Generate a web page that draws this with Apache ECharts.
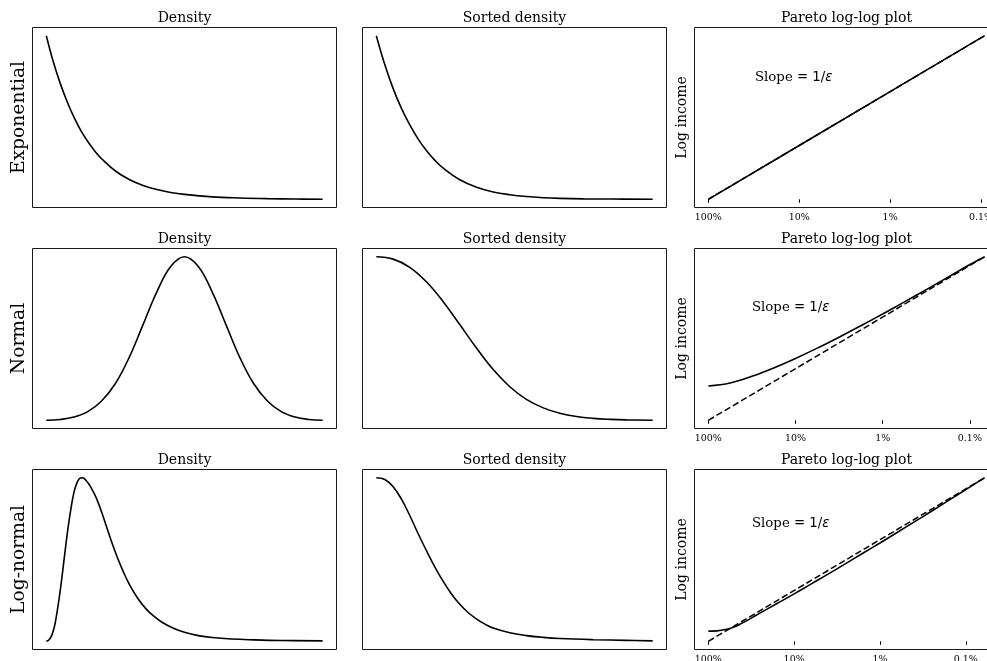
<!DOCTYPE html>
<html>
<head>
<meta charset="utf-8">
<script src="https://cdn.jsdelivr.net/npm/echarts@6/dist/echarts.min.js"></script>
<style>
html,body{margin:0;padding:0;background:#fff;}
#chart{width:987px;height:661px;}
</style>
</head>
<body>
<div id="chart"></div>
<script>
// ---------- data (normalized: x = position within data range, y = fraction of data range) ----------
const rowNames = ['Exponential', 'Normal', 'Log-normal'];
const colTitles = ['Density', 'Sorted density', 'Pareto log-log plot'];
const paretoTickValues = [0, 1, 2, 3];
const paretoTickLabels = ['100%', '10%', '1%', '0.1%'];

const expDensityT = [0, 0.025, 0.05, 0.075, 0.10, 0.125, 0.15, 0.175, 0.20, 0.25, 0.30, 0.35, 0.40, 0.45, 0.50, 0.60, 0.70, 0.80, 0.90, 1.0];
const expDensityV = [1.0, 0.842, 0.71, 0.598, 0.502, 0.42, 0.353, 0.296, 0.248, 0.173, 0.121, 0.085, 0.06, 0.042, 0.03, 0.015, 0.008, 0.004, 0.002, 0.0];

const expSortedT = [0, 0.0303, 0.0606, 0.0909, 0.1212, 0.1515, 0.1818, 0.2121, 0.2424, 0.302, 0.363, 0.423, 0.483, 0.543, 0.604, 0.664, 0.75, 0.85, 1.0];
const expSortedV = [1.0, 0.825, 0.678, 0.556, 0.455, 0.368, 0.297, 0.238, 0.19, 0.12, 0.074, 0.045, 0.028, 0.017, 0.010, 0.006, 0.003, 0.002, 0.0];

const normDensityT = [0, 0.05, 0.10, 0.15, 0.20, 0.25, 0.30, 0.35, 0.40, 0.45, 0.50, 0.55, 0.60, 0.65, 0.70, 0.75, 0.80, 0.85, 0.90, 0.95, 1.0];
const normDensityV = [0, 0.005, 0.020, 0.053, 0.118, 0.225, 0.385, 0.585, 0.785, 0.94, 1.0, 0.94, 0.785, 0.585, 0.385, 0.225, 0.118, 0.053, 0.020, 0.005, 0];

const normSortedT = [0, 0.061, 0.121, 0.182, 0.242, 0.302, 0.363, 0.423, 0.483, 0.543, 0.604, 0.664, 0.724, 0.785, 0.85, 0.905, 1.0];
const normSortedV = [1.0, 0.985, 0.935, 0.845, 0.725, 0.585, 0.44, 0.31, 0.205, 0.128, 0.076, 0.043, 0.023, 0.012, 0.006, 0.003, 0.0];

const lognDensityT = [0, 0.01, 0.02, 0.03, 0.04, 0.05, 0.06, 0.07, 0.08, 0.09, 0.10, 0.11, 0.12, 0.13, 0.14, 0.15, 0.16, 0.18, 0.20, 0.22, 0.24, 0.26, 0.28, 0.30, 0.33, 0.36, 0.39, 0.42, 0.46, 0.50, 0.55, 0.60, 0.67, 0.75, 0.85, 1.0];
const lognDensityV = [0, 0.010, 0.038, 0.095, 0.19, 0.305, 0.44, 0.58, 0.71, 0.82, 0.91, 0.965, 0.995, 1.0, 0.99, 0.97, 0.945, 0.88, 0.79, 0.69, 0.59, 0.50, 0.42, 0.35, 0.265, 0.20, 0.152, 0.115, 0.08, 0.055, 0.035, 0.023, 0.014, 0.009, 0.005, 0.003];

const lognSortedT = [0, 0.031, 0.061, 0.091, 0.121, 0.151, 0.182, 0.212, 0.242, 0.272, 0.302, 0.332, 0.363, 0.393, 0.423, 0.483, 0.543, 0.604, 0.664, 0.785, 0.905, 1.0];
const lognSortedV = [1.0, 0.989, 0.944, 0.869, 0.769, 0.659, 0.552, 0.454, 0.366, 0.289, 0.226, 0.176, 0.136, 0.105, 0.081, 0.052, 0.035, 0.024, 0.017, 0.010, 0.006, 0.003];

// Pareto: x in decades of top share (0 = 100%, 3 = 0.1%), y = normalized log income
const paretoExpX = [0, 1, 2, 3.04];
const paretoExpV = [0, 0.329, 0.658, 1.0];
const paretoExpRefX = [0, 3.04];
const paretoExpRefV = [0, 1.0];

const paretoNormX = [0, 0.25, 0.5, 0.75, 1.0, 1.25, 1.5, 1.75, 2.0, 2.25, 2.5, 2.75, 3.0, 3.17];
const paretoNormV = [0.21, 0.228, 0.269, 0.320, 0.378, 0.441, 0.508, 0.578, 0.650, 0.724, 0.799, 0.875, 0.952, 1.0];
const paretoNormRefX = [0, 3.17];
const paretoNormRefV = [0, 1.0];

const paretoLognX = [0, 0.1, 0.2, 0.3, 0.4, 0.5, 0.6, 0.8, 1.0, 1.2, 1.4, 1.6, 1.8, 2.0, 2.2, 2.4, 2.6, 2.8, 3.0, 3.22];
const paretoLognV = [0.062, 0.064, 0.072, 0.088, 0.113, 0.142, 0.172, 0.231, 0.290, 0.351, 0.412, 0.475, 0.538, 0.601, 0.665, 0.730, 0.795, 0.861, 0.927, 1.0];
const paretoLognRefX = [0, 3.22];
const paretoLognRefV = [0, 1.0];

const paretoXmax = [3.04, 3.17, 3.22];

// ---------- layout ----------
const colLeft = [32.5, 362.5, 694.5];
const rowTop = [27.5, 248.5, 469.5];
const PW = 304, PH = 180;
const SERIF = 'DejaVu Serif';
const INK = '#000';
const SPINE = '#1a1a1a';

const zip = (xs, ys) => xs.map((x, i) => [x, ys[i]]);

const panels = [
  [ {t: expDensityT, v: expDensityV}, {t: expSortedT, v: expSortedV},
    {x: paretoExpX, v: paretoExpV, rx: paretoExpRefX, rv: paretoExpRefV, smooth: false} ],
  [ {t: normDensityT, v: normDensityV}, {t: normSortedT, v: normSortedV},
    {x: paretoNormX, v: paretoNormV, rx: paretoNormRefX, rv: paretoNormRefV, smooth: 0.4} ],
  [ {t: lognDensityT, v: lognDensityV}, {t: lognSortedT, v: lognSortedV},
    {x: paretoLognX, v: paretoLognV, rx: paretoLognRefX, rv: paretoLognRefV, smooth: 0.5} ]
];

const grid = [], xAxis = [], yAxis = [], series = [], title = [], graphic = [];
const slopePos = [[755, 78], [752, 308], [752, 523.5]];

for (let r = 0; r < 3; r++) {
  for (let c = 0; c < 3; c++) {
    const gi = r * 3 + c;
    grid.push({left: colLeft[c], top: rowTop[r], width: PW, height: PH, show: true,
      borderColor: SPINE, borderWidth: 1, backgroundColor: 'transparent',
      containLabel: false, outerBoundsMode: 'none'});
    title.push({text: colTitles[c], left: colLeft[c] + PW / 2, top: rowTop[r] - 16.5, textAlign: 'center',
      padding: 0, textStyle: {fontFamily: SERIF, fontSize: 14, fontWeight: 'normal', color: INK}});
    const p = panels[r][c];
    if (c < 2) {
      xAxis.push({gridIndex: gi, type: 'value', min: -0.05, max: 1.05, show: false});
      yAxis.push({gridIndex: gi, type: 'value', min: -0.05, max: 1.05, show: c === 0,
        axisLine: {show: false}, axisTick: {show: false}, axisLabel: {show: false}, splitLine: {show: false},
        name: c === 0 ? rowNames[r] : '', nameLocation: 'middle', nameRotate: 90, nameGap: 4,
        nameTextStyle: {fontFamily: SERIF, fontSize: 18.7, color: INK}});
      series.push({type: 'line', xAxisIndex: gi, yAxisIndex: gi, data: zip(p.t, p.v),
        showSymbol: false, symbol: 'none', smooth: 0.4,
        lineStyle: {color: INK, width: 1.6}, silent: true});
    } else {
      const xm = paretoXmax[r];
      xAxis.push({gridIndex: gi, type: 'value', min: -0.05 * xm, max: 1.05 * xm,
        axisLine: {show: false}, splitLine: {show: false},
        axisTick: {show: true, customValues: paretoTickValues, length: 3.5, lineStyle: {color: INK, width: 1}},
        axisLabel: {show: true, customValues: paretoTickValues, margin: 5,
          formatter: v => paretoTickLabels[paretoTickValues.indexOf(Math.round(v))],
          fontFamily: SERIF, fontSize: 9.5, color: INK}});
      yAxis.push({gridIndex: gi, type: 'value', min: -0.05, max: 1.05,
        axisLine: {show: false}, axisTick: {show: false}, axisLabel: {show: false}, splitLine: {show: false},
        name: 'Log income', nameLocation: 'middle', nameRotate: 90, nameGap: 5,
        nameTextStyle: {fontFamily: SERIF, fontSize: 14, color: INK}});
      series.push({type: 'line', xAxisIndex: gi, yAxisIndex: gi, data: zip(p.x, p.v),
        showSymbol: false, symbol: 'none', smooth: p.smooth,
        lineStyle: {color: INK, width: 1.6}, silent: true});
      series.push({type: 'line', xAxisIndex: gi, yAxisIndex: gi, data: zip(p.rx, p.rv),
        showSymbol: false, symbol: 'none',
        lineStyle: {color: INK, width: 1.5, type: [6.5, 3]}, silent: true});
      graphic.push({type: 'text', x: slopePos[r][0], y: slopePos[r][1], silent: true,
        style: {text: '{s|Slope }{m|= 1/}{e|ε}', align: 'left', verticalAlign: 'middle',
          rich: {
            s: {fontFamily: SERIF, fontSize: 13.3, fill: INK, color: INK},
            m: {fontFamily: 'DejaVu Sans', fontSize: 13.3, fill: INK, color: INK},
            e: {fontFamily: 'DejaVu Sans', fontStyle: 'italic', fontSize: 13.3, fill: INK, color: INK}
          }}});
    }
  }
}

const chart = echarts.init(document.getElementById('chart'), null, {renderer: 'canvas'});
chart.setOption({
  backgroundColor: '#fff',
  animation: false,
  title, grid, xAxis, yAxis, series, graphic
});
</script>
</body>
</html>
